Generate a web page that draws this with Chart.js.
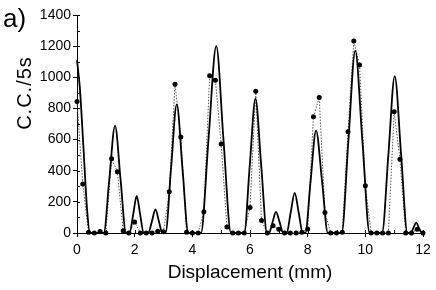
<!DOCTYPE html>
<html>
<head>
<meta charset="utf-8">
<script src="https://cdn.jsdelivr.net/npm/chart.js@4"></script>
<style>
  html, body { margin: 0; padding: 0; background: #fff; }
  #wrap { width: 436px; height: 290px; position: relative; }
</style>
</head>
<body>
<div id="wrap"><canvas id="myChart"></canvas></div>
<script>
'use strict'

// measured points (black dots, dotted line)
const pointX = [0, 0.2, 0.4, 0.6, 0.8, 1.0, 1.2, 1.4, 1.6, 1.8, 2.0, 2.2, 2.4, 2.6, 2.8, 3.0,
  3.2, 3.4, 3.6, 3.8, 4.0, 4.2, 4.4, 4.6, 4.8, 5.0, 5.2, 5.4, 5.6, 5.8, 6.0, 6.2, 6.4, 6.6,
  6.8, 7.0, 7.2, 7.4, 7.6, 7.8, 8.0, 8.2, 8.4, 8.6, 8.8, 9.0, 9.2, 9.4, 9.6, 9.8, 10.0, 10.2,
  10.4, 10.6, 10.8, 11.0, 11.2, 11.4, 11.6, 11.8, 12.0];
const pointY = [845, 315, 5, 0, 10, 0, 477, 394, 15, 0, 70, 0, 0, 0, 12, 8,
  265, 955, 616, 5, 0, 0, 137, 1010, 981, 572, 39, 0, 0, 0, 164, 911, 80, 0,
  46, 24, 0, 0, 0, 5, 25, 747, 870, 132, 0, 0, 5, 651, 1233, 1079, 304, 0,
  0, 0, 0, 779, 473, 0, 0, 24, 0];

// fitted curve (solid line)
const fitX = [0, 0.1, 0.22, 0.35, 0.45, 0.93, 1.12, 1.32, 1.51, 1.70, 1.82, 1.95, 2.07, 2.19, 2.31,
  2.47, 2.6, 2.72, 2.84, 2.96, 3.07, 3.26, 3.46, 3.66, 3.86, 4.3, 4.56, 4.83, 5.08, 5.34,
  5.8, 5.99, 6.19, 6.39, 6.59, 6.66, 6.78, 6.9, 7.03, 7.15, 7.27, 7.41, 7.55, 7.69, 7.83,
  7.92, 8.1, 8.29, 8.5, 8.7, 9.18, 9.41, 9.65, 9.9, 10.15, 10.58, 10.8, 11.02, 11.24, 11.46,
  11.58, 11.67, 11.76, 11.86, 11.96, 12];
const fitY = [1110, 930, 560, 150, 0, 0, 345, 690, 345, 0, 0, 120, 238, 120, 0,
  0, 76, 152, 76, 0, 0, 410, 826, 410, 0, 0, 600, 1200, 600, 0,
  0, 430, 862, 430, 0, 0, 68, 136, 68, 0, 0, 130, 258, 130, 0,
  0, 330, 658, 330, 0, 0, 585, 1170, 585, 0, 0, 505, 1008, 505, 0,
  0, 33, 66, 33, 0, 0];

const xMin = 0, xMax = 12, xStep = 2;
const yMin = 0, yMax = 1400, yStep = 200;
const xTitle = 'Displacement (mm)';
const yTitle = 'C.C./5s';
const panelLabel = 'a)';

const FONT = "'Liberation Sans', Arial, Helvetica, sans-serif";

// inward minor ticks + rotated y title + panel label
const extras = {
  id: 'extras',
  afterDraw(chart) {
    const ctx = chart.ctx;
    const xs = chart.scales.x, ys = chart.scales.y;
    ctx.save();
    ctx.strokeStyle = '#000';
    ctx.lineWidth = 1;
    ctx.beginPath();
    for (let v = yMin; v <= yMax; v += yStep / 2) {
      const py = Math.round(ys.getPixelForValue(v)) + 0.5;
      ctx.moveTo(xs.left, py);
      ctx.lineTo(xs.left + 3, py);
    }
    for (let v = xMin; v <= xMax; v += xStep / 2) {
      const px = Math.round(xs.getPixelForValue(v)) + 0.5;
      ctx.moveTo(px, ys.bottom);
      ctx.lineTo(px, ys.bottom - 3);
    }
    ctx.stroke();

    ctx.fillStyle = '#000';
    ctx.font = '20px ' + FONT;
    ctx.textAlign = 'center';
    ctx.textBaseline = 'middle';
    ctx.translate(25, 93);
    ctx.rotate(-Math.PI / 2);
    ctx.letterSpacing = '1px';
    ctx.fillText(yTitle, 0, 0);
    ctx.restore();

    ctx.save();
    ctx.fillStyle = '#000';
    ctx.font = '26px ' + FONT;
    ctx.textAlign = 'left';
    ctx.textBaseline = 'alphabetic';
    ctx.fillText(panelLabel, 3, 27);
    ctx.restore();
  }
};

const ctx = document.getElementById('myChart').getContext('2d');
const myChart = new Chart(ctx, {
  type: 'scatter',
  data: {
    datasets: [
      {
        label: 'fit',
        data: fitX.map((x, i) => ({ x: x, y: fitY[i] })),
        showLine: true,
        borderColor: '#000',
        borderWidth: 1.8,
        pointRadius: 0,
        cubicInterpolationMode: 'monotone',
        clip: false,
      },
      {
        label: 'data',
        data: pointX.map((x, i) => ({ x: x, y: pointY[i] })),
        showLine: true,
        borderColor: '#555',
        borderWidth: 1,
        borderDash: [1.5, 1.5],
        pointRadius: 2.5,
        pointBackgroundColor: '#000',
        pointBorderColor: '#000',
        pointBorderWidth: 0,
        tension: 0,
        clip: false,
      },
    ],
  },
  options: {
    responsive: true,
    maintainAspectRatio: false,
    animation: false,
    layout: { padding: { left: 0, right: 13, top: 15, bottom: 0 } },
    plugins: {
      legend: { display: false },
      tooltip: { enabled: false },
    },
    scales: {
      x: {
        type: 'linear',
        min: xMin,
        max: xMax,
        afterFit(scale) { scale.height = 57; },
        ticks: {
          stepSize: xStep, color: '#000', padding: 5, font: { size: 14, family: FONT },
          callback: (v) => String(v),
        },
        grid: { drawOnChartArea: false, tickLength: 4, color: '#000' },
        border: { color: '#000', width: 1 },
        title: {
          display: true,
          text: xTitle,
          color: '#000',
          font: { size: 19, family: FONT },
          padding: { top: 0, bottom: 6 },
        },
      },
      y: {
        min: yMin,
        max: yMax,
        afterFit(scale) { scale.width = 77; },
        ticks: {
          stepSize: yStep, color: '#000', padding: 2, font: { size: 14, family: FONT },
          callback: (v) => String(v),
        },
        grid: { drawOnChartArea: false, tickLength: 4, color: '#000' },
        border: { color: '#000', width: 1 },
      },
    },
  },
  plugins: [extras],
});
</script>
</body>
</html>
